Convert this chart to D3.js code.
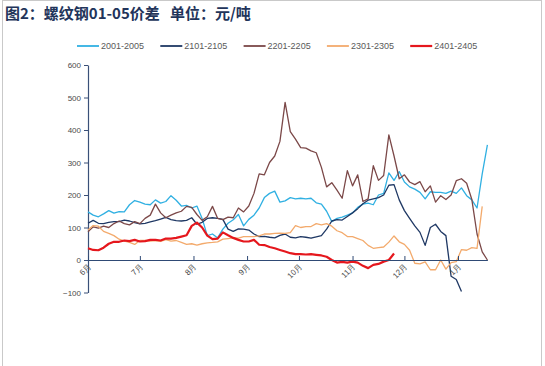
<!DOCTYPE html>
<html>
<head>
<meta charset="utf-8">
<script src="https://cdn.jsdelivr.net/npm/d3@7"></script>
<style>
  body { margin: 0; background: #fff; }
  svg { display: block; }
</style>
</head>
<body>
<div id="chart"></div>
<script>
// trading-day samples (every 3 days) from Jun to mid Jan
const dates = [
  "2023-06-01","2023-06-04","2023-06-07","2023-06-10","2023-06-13","2023-06-16","2023-06-19","2023-06-22","2023-06-25","2023-06-28",
  "2023-07-01","2023-07-04","2023-07-07","2023-07-10","2023-07-13","2023-07-16","2023-07-19","2023-07-22","2023-07-25","2023-07-28",
  "2023-07-31","2023-08-03","2023-08-06","2023-08-09","2023-08-12","2023-08-15","2023-08-18","2023-08-21","2023-08-24","2023-08-27",
  "2023-08-30","2023-09-02","2023-09-05","2023-09-08","2023-09-11","2023-09-14","2023-09-17","2023-09-20","2023-09-23","2023-09-26",
  "2023-09-29","2023-10-02","2023-10-05","2023-10-08","2023-10-11","2023-10-14","2023-10-17","2023-10-20","2023-10-23","2023-10-26",
  "2023-10-29","2023-11-01","2023-11-04","2023-11-07","2023-11-10","2023-11-13","2023-11-16","2023-11-19","2023-11-22","2023-11-25",
  "2023-11-28","2023-12-01","2023-12-04","2023-12-07","2023-12-10","2023-12-13","2023-12-16","2023-12-19","2023-12-22","2023-12-25",
  "2023-12-28","2023-12-31","2024-01-03","2024-01-06","2024-01-09","2024-01-12","2024-01-15","2024-01-18"
];

const s2001 = [148,138,133,142,152,144,149,148,170,183,
  178,172,170,185,175,180,198,184,166,168,
  160,166,128,75,80,68,95,113,124,140,
  105,125,138,160,192,205,212,178,182,192,
  188,190,188,190,176,172,150,118,128,132,
  138,145,162,172,175,170,200,205,268,245,
  272,240,225,218,208,188,210,208,208,205,
  212,205,222,198,185,160,265,354];

const s2101 = [113,122,113,112,116,118,118,123,120,115,
  111,113,117,121,126,131,124,121,120,122,
  130,110,116,128,130,128,125,95,88,96,
  95,92,80,72,73,70,68,76,80,70,
  68,72,70,67,71,75,95,120,124,123,
  134,145,158,173,184,188,192,200,230,232,
  185,152,128,105,85,45,100,110,88,75,
  -50,-60,-97,null,null,null,null,null];

const s2201 = [87,102,98,104,100,112,120,112,108,118,
  112,128,138,172,145,130,138,145,150,165,
  162,140,122,133,165,128,124,132,130,160,
  148,166,205,265,262,300,320,365,485,395,
  372,346,344,336,330,285,225,238,215,190,
  275,228,262,180,188,290,245,260,385,320,
  250,262,240,232,241,210,228,178,198,186,
  200,244,250,236,186,80,25,0];

const s2301 = [92,106,104,88,82,75,64,58,54,48,
  60,60,58,60,57,63,58,60,54,48,
  50,46,50,53,54,56,64,66,68,67,
  72,72,72,74,80,80,82,83,82,84,
  106,100,103,103,112,108,112,104,90,84,
  72,72,66,60,45,36,38,40,55,74,
  56,48,30,-10,-12,-6,-30,-30,0,-28,
  -8,-5,32,30,38,36,165,null];

const s2401 = [36,31,30,38,50,56,56,60,58,62,
  57,58,62,62,60,66,66,68,72,76,
  105,115,100,75,64,66,85,76,68,62,
  57,57,62,47,46,40,36,31,26,21,
  18,18,17,18,16,14,10,0,-8,-6,
  -8,-5,-8,-18,-25,-15,-12,-5,0,20,
  null,null,null,null,null,null,null,null,null,null,
  null,null,null,null,null,null,null,null];

const seriesNames = ["2001-2005", "2101-2105", "2201-2205", "2301-2305", "2401-2405"];
const seriesValues = [s2001, s2101, s2201, s2301, s2401];
const seriesColors = ["#30b0e2", "#1f3864", "#7b4848", "#f3aa6c", "#e5171d"];
const seriesWidths = [1.3, 1.3, 1.3, 1.3, 2.2];

const yTicks = [600, 500, 400, 300, 200, 100, 0, -100];
const monthTicks = ["2023-06-01","2023-07-01","2023-08-01","2023-09-01","2023-10-01","2023-11-01","2023-12-01","2024-01-01"];
const monthLabels = ["6月","7月","8月","9月","10月","11月","12月","1月"];

const width = 545, height = 366;
const parse = d3.timeParse("%Y-%m-%d");
const xDates = dates.map(parse);

const svg = d3.select("#chart").append("svg")
  .attr("width", width)
  .attr("height", height);

// outer frame
svg.append("rect")
  .attr("x", 2.5).attr("y", 0.5)
  .attr("width", 539).attr("height", 380)
  .attr("fill", "none")
  .attr("stroke", "#c9c9c9");

// title (keep the double space)
svg.append("text")
  .attr("x", 5)
  .attr("y", 19)
  .style("white-space", "pre")
  .style("font-family", "'Noto Sans CJK SC', sans-serif")
  .style("font-size", "15px")
  .style("font-weight", "bold")
  .style("fill", "#22345a")
  .text("图2：螺纹钢01-05价差   单位：元/吨");

const x = d3.scaleTime()
  .domain([parse("2023-06-01"), parse("2024-01-18")])
  .range([88, 487.4]);

const y = d3.scaleLinear()
  .domain([-100, 600])
  .range([292.5, 65]);

// y axis
const yAxis = svg.append("g")
  .attr("transform", "translate(88,0)")
  .call(d3.axisLeft(y).tickValues(yTicks).tickSizeInner(4).tickSizeOuter(0).tickPadding(3)
    .tickFormat(d => d < 0 ? "\u2212" + Math.abs(d) : d));
yAxis.select(".domain").attr("stroke", "#3a5078").attr("stroke-width", 1.2);
yAxis.selectAll(".tick line").attr("stroke", "#3a5078");
yAxis.selectAll("text")
  .style("font-family", "'Liberation Sans', Arial, sans-serif")
  .style("font-size", "8px")
  .style("fill", "#4a4a4a");

// lines
const line = d3.line()
  .defined(d => d.v !== null)
  .x(d => x(d.t))
  .y(d => y(d.v));

seriesValues.forEach((vals, k) => {
  const pts = vals.map((v, i) => ({ t: xDates[i], v: v }));
  svg.append("path")
    .datum(pts)
    .attr("fill", "none")
    .attr("stroke", seriesColors[k])
    .attr("stroke-width", seriesWidths[k])
    .attr("stroke-linejoin", "round")
    .attr("d", line);
});

// x axis at zero
const xAxis = svg.append("g")
  .attr("transform", `translate(0,${y(0)})`)
  .call(d3.axisBottom(x).tickValues(monthTicks.map(parse)).tickSizeInner(-4).tickSizeOuter(0)
    .tickFormat((d, i) => monthLabels[i]));
xAxis.select(".domain").attr("stroke", "#2f4a75").attr("stroke-width", 1.2);
xAxis.selectAll(".tick line").attr("stroke", "#2f4a75");
xAxis.selectAll("text")
  .attr("x", 0).attr("y", 0).attr("dy", 0)
  .attr("transform", "translate(3,7) rotate(-45)")
  .style("text-anchor", "end")
  .style("font-family", "'Liberation Sans', Arial, sans-serif")
  .style("font-size", "8px")
  .style("fill", "#4a4a4a");

// legend
const legend = svg.append("g").attr("transform", "translate(77,46)");
seriesNames.forEach((name, k) => {
  const g = legend.append("g").attr("transform", `translate(${k * 83.3},0)`);
  g.append("line")
    .attr("x1", 0).attr("x2", 22)
    .attr("y1", 0).attr("y2", 0)
    .attr("stroke", seriesColors[k])
    .attr("stroke-width", k === 4 ? 2.2 : 1.8);
  g.append("text")
    .attr("x", 24).attr("y", 3)
    .style("font-family", "'Liberation Sans', Arial, sans-serif")
    .style("font-size", "9px")
    .style("fill", "#595959")
    .text(name);
});
</script>
</body>
</html>
